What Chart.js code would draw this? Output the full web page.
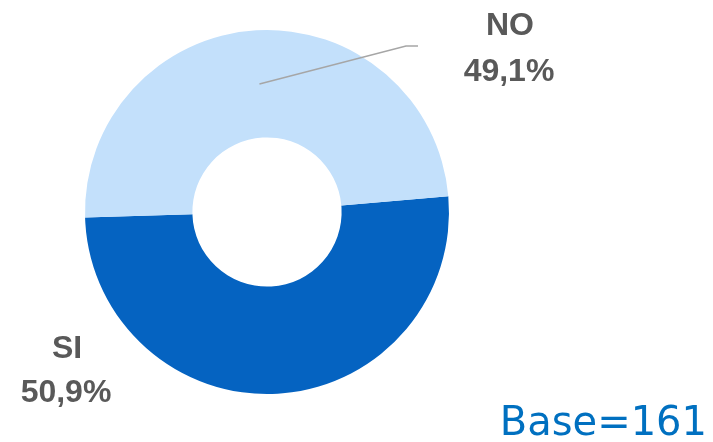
<!DOCTYPE html>
<html>
<head>
<meta charset="utf-8">
<script src="https://cdn.jsdelivr.net/npm/chart.js@4.4.1/dist/chart.umd.min.js"></script>
<style>
html,body{margin:0;padding:0;background:#fff;}
#wrap{position:relative;width:713px;height:442px;}
</style>
</head>
<body>
<div id="wrap"><canvas id="c" width="713" height="442"></canvas></div>
<script>
const categories = ["SI", "NO"];
const values = [50.9, 49.1];
const valueLabels = ["50,9%", "49,1%"];
const baseText = "Base=161";
const colors = ["#0563C1", "#C3E0FB"];

const labelPlugin = {
  id: 'labels',
  afterDatasetsDraw(chart) {
    const ctx = chart.ctx;
    const meta = chart.getDatasetMeta(0);
    const arcNO = meta.data[1];
    const cx = arcNO.x, cy = arcNO.y, R = arcNO.outerRadius;
    ctx.save();
    // leader line for NO
    const p = arcNO.getCenterPoint();
    ctx.strokeStyle = '#A6A6A6';
    ctx.lineWidth = 1.5;
    ctx.beginPath();
    ctx.moveTo(p.x, p.y);
    ctx.lineTo(cx + 139, cy - 166);
    ctx.lineTo(cx + 151, cy - 166);
    ctx.stroke();
    // text labels
    ctx.fillStyle = '#595959';
    ctx.font = 'bold 32px "Liberation Sans", Arial, sans-serif';
    ctx.textAlign = 'center';
    ctx.textBaseline = 'alphabetic';
    ctx.fillText(categories[1], cx + 243, cy - 177);
    ctx.fillText(valueLabels[1], cx + 242, cy - 131);
    ctx.fillText(categories[0], cx - 200, cy + 146);
    ctx.fillText(valueLabels[0], cx - 201, cy + 190);
    // base text
    ctx.fillStyle = '#0070C0';
    ctx.font = '40px "DejaVu Sans", Verdana, sans-serif';
    ctx.textAlign = 'right';
    ctx.fillText(baseText, 707, 435);
    ctx.restore();
  }
};

new Chart(document.getElementById('c'), {
  type: 'doughnut',
  data: {
    labels: categories,
    datasets: [{
      data: values,
      backgroundColor: colors,
      borderWidth: 0,
      hoverOffset: 0
    }]
  },
  options: {
    responsive: false,
    animation: false,
    rotation: 85,
    cutout: '41%',
    layout: { padding: { left: 85, right: 264, top: 30, bottom: 48 } },
    plugins: { legend: { display: false }, tooltip: { enabled: false } }
  },
  plugins: [labelPlugin]
});
</script>
</body>
</html>
